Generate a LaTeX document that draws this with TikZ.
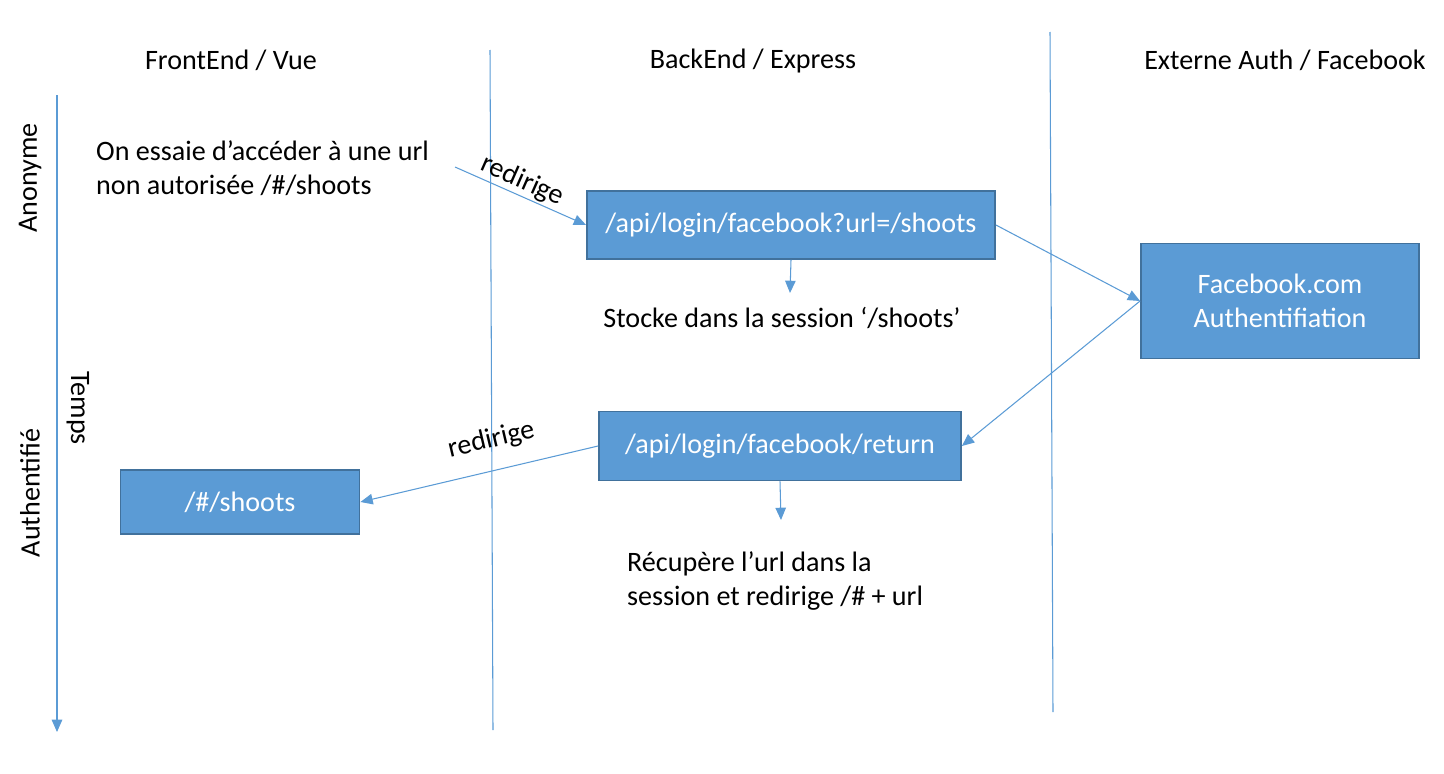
\documentclass[tikz,border=0pt]{standalone}
\usepackage{fontspec}
\setmainfont{Carlito}
\usetikzlibrary{arrows.meta}
\definecolor{boxblue}{HTML}{5B9BD5}
\definecolor{boxedge}{HTML}{41719C}
\begin{document}
\begin{tikzpicture}[x=0.02cm, y=-0.02cm,
        every node/.style={font=\fontsize{16}{19}\selectfont},
        etape/.style={draw=boxedge, line width=1.1pt, fill=boxblue, text=white, inner sep=0pt, align=center},
        fleche/.style={draw=boxblue, line width=0.6pt, -{Triangle[length=7pt, width=6pt]}},
        trait/.style={draw=boxblue, line width=0.6pt}]
        \useasboundingbox (0,0) rectangle (1444,774);
        \draw[trait] (490, 50) -- (493, 730);
        \draw[trait] (1050, 32) -- (1053, 712);
        \draw[fleche] (57, 95) -- (57, 732);
        \node (front) at (231, 60) {FrontEnd / Vue};
        \node (back) at (753, 61) {BackEnd / Express};
        \node (ext) at (1285, 60) {Externe Auth / Facebook};
        \node[rotate=90] (anon) at (30, 178) {Anonyme};
        \node[rotate=90] (auth) at (30, 493) {Authentifié};
        \node[rotate=-90] (temps) at (78, 408) {Temps};
        \node[anchor=west, align=left] (essai) at (90, 168) {On essaie d’accéder à une url\\non autorisée /\#/shoots};
        \node[etape, minimum width=8.16cm, minimum height=1.36cm] (login) at (791, 225) {\raisebox{-2pt}{/api/login/facebook?url=/shoots}};
        \node[etape, minimum width=5.56cm, minimum height=2.3cm] (fb) at (1280, 301) {Facebook.com\\Authentifiation};
        \node[etape, minimum width=7.24cm, minimum height=1.38cm] (retour) at (780, 446) {\raisebox{-2pt}{/api/login/facebook/return}};
        \node[etape, minimum width=4.78cm, minimum height=1.28cm] (shoots) at (240, 502) {/\#/shoots};
        \node (stocke) at (782, 318) {Stocke dans la session ‘/shoots’};
        \node[anchor=west, align=left] (recup) at (621, 581) {Récupère l’url dans la\\session et redirige /\# + url};
        \coordinate (depart) at (455, 167);
        \coordinate (stockefin) at (790, 293);
        \coordinate (recupfin) at (781, 520);
        \draw[fleche] (depart) -- node[sloped, above, pos=0.47, inner sep=1pt] {redirige} (login.west);
        \draw[fleche] (login.south) -- (stockefin);
        \draw[fleche] (login.east) -- (fb.west);
        \draw[fleche] (fb.west) -- (retour.east);
        \draw[fleche] (retour.south) -- (recupfin);
        \draw[fleche] (retour.west) -- node[sloped, above=9pt, pos=0.42, inner sep=1pt] {redirige} (shoots.east);
\end{tikzpicture}
\end{document}
